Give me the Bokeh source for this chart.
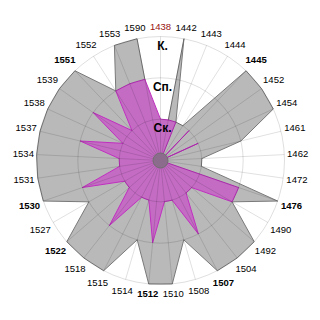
import numpy as np
from bokeh.plotting import figure
from bokeh.models import ColumnDataSource, Range1d
from bokeh.embed import file_html
from bokeh.resources import INLINE
from bokeh.core.properties import value

# ---- data ----
years = ["1438", "1442", "1443", "1444", "1445", "1452", "1454", "1461", "1462",
         "1472", "1476", "1490", "1492", "1504", "1507", "1508", "1510", "1512",
         "1514", "1515", "1518", "1522", "1527", "1530", "1531", "1534", "1537",
         "1538", "1539", "1551", "1552", "1553", "1590"]
outer_levels = [0, 3, 1, 1, 3, 3, 3, 2, 1,
                1, 3, 2, 3, 3, 3, 2, 3, 3,
                2, 3, 3, 3, 2, 3, 3, 3, 3,
                3, 3, 3, 2, 3, 3]
inner_levels = [1, 1, 1, 0, 1, 0, 1, 0, 0,
                0, 2, 2, 1, 1, 2, 1, 1, 2,
                1, 1, 2, 1, 1, 2, 1, 1, 2,
                1, 2, 1, 2, 2, 2]
bold_years = ["1445", "1476", "1507", "1512", "1522", "1530", "1551"]
highlight_year = "1438"
level_names = ["Ск.", "Сп.", "К."]
level_ticks = [1, 2, 3]

# ---- geometry ----
n = len(years)
max_level = 3
px_per_level = 124 / max_level
half = 160 / px_per_level

theta = np.arange(n) * 2 * np.pi / n
sx, sy = np.sin(theta), np.cos(theta)
outer_r = np.array(outer_levels, dtype=float)
inner_r = np.array(inner_levels, dtype=float)

p = figure(width=320, height=320, output_backend="svg", toolbar_location=None,
           x_range=Range1d(-half, half), y_range=Range1d(-half, half),
           x_axis_type=None, y_axis_type=None, min_border=0,
           outline_line_color=None, background_fill_color="white",
           border_fill_color="white")

p.patch(x=outer_r * sx, y=outer_r * sy, fill_color="#b9b9b9",
        line_color="#7a7a7a", line_width=1)
p.patch(x=inner_r * sx, y=inner_r * sy, fill_color="#c46cc4",
        line_color="#c030c0", line_width=1)

# grid on top
p.segment(x0=np.zeros(n), y0=np.zeros(n), x1=max_level * sx, y1=max_level * sy,
          line_color="black", line_alpha=0.12, line_width=1)
p.circle(x=[0] * len(level_ticks), y=[0] * len(level_ticks), radius=level_ticks,
         fill_color=None, line_color="black", line_alpha=0.13, line_width=1)

p.scatter(x=[0], y=[0], size=15, fill_color="#8c6c8c", line_color="#707070",
          line_width=1)

# category labels
lab_r = max_level + (3 + np.abs(sx) * 10 + np.abs(sy) * 6.5) / px_per_level
src = ColumnDataSource(dict(
    x=lab_r * sx, y=lab_r * sy, text=years,
    color=["#991111" if y == highlight_year else "black" for y in years],
    style=["bold" if y in bold_years else "normal" for y in years],
))
p.text(x="x", y="y", text="text", source=src, text_color="color",
       text_font_style="style", text_align="center", text_baseline="middle",
       text_font=value("Liberation Sans"), text_font_size=value("9.5px"))

# level labels
p.text(x=[0] * len(level_ticks), y=level_ticks, text=level_names,
       text_align="center", text_baseline="top", x_offset=2, y_offset=2,
       text_font=value("Liberation Sans"), text_font_size=value("12px"),
       text_font_style=value("bold"), text_color="black")

open("out.html", "w").write(file_html(p, INLINE))
